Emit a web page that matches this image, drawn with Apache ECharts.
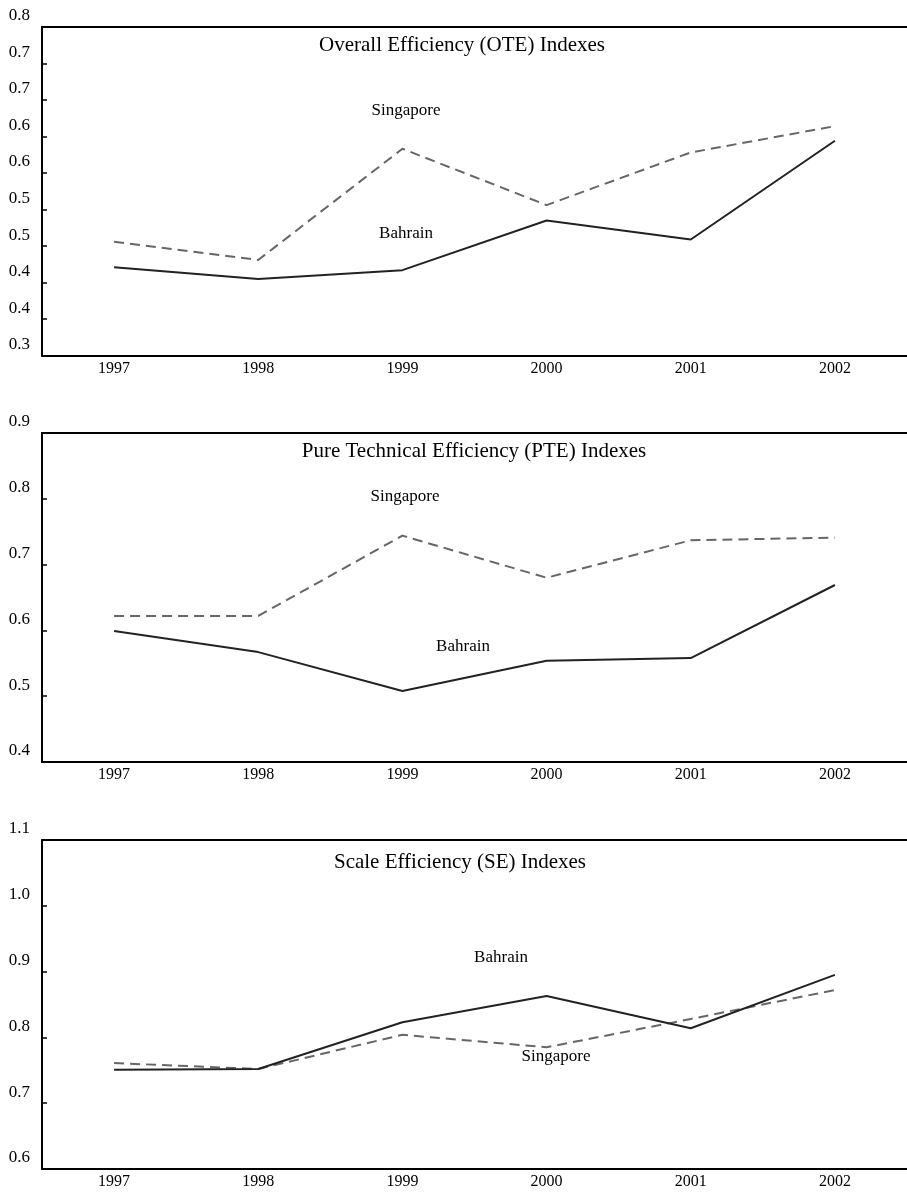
<!DOCTYPE html>
<html>
<head>
<meta charset="utf-8">
<script src="https://cdn.jsdelivr.net/npm/echarts@6/dist/echarts.min.js"></script>
<style>
html,body{margin:0;padding:0;background:#fff;}
#c{width:907px;height:1194px;}
</style>
</head>
<body>
<div id="c"></div>
<script>
const years = ['1997', '1998', '1999', '2000', '2001', '2002'];

const oteBahrain   = [0.471, 0.455, 0.467, 0.535, 0.509, 0.644];
const oteSingapore = [0.506, 0.481, 0.633, 0.556, 0.628, 0.664];

const pteBahrain   = [0.599, 0.567, 0.508, 0.554, 0.558, 0.669];
const pteSingapore = [0.622, 0.622, 0.744, 0.680, 0.737, 0.741];

const seBahrain    = [0.751, 0.752, 0.823, 0.863, 0.814, 0.895];
const seSingapore  = [0.761, 0.752, 0.804, 0.785, 0.828, 0.872];

const oteRange = { min: 0.35, max: 0.8, interval: 0.05 };
const pteRange = { min: 0.4, max: 0.9, interval: 0.1 };
const seRange  = { min: 0.6, max: 1.1, interval: 0.1 };

const titles = [
  'Overall Efficiency (OTE) Indexes',
  'Pure Technical Efficiency (PTE) Indexes',
  'Scale Efficiency (SE) Indexes'
];

const FONT = '"Liberation Serif", "Times New Roman", serif';
const panelTops = [26.7, 433, 840];
const panelH = 329;

const chart = echarts.init(document.getElementById('c'));

const grids = panelTops.map(t => ({ left: 42, top: t, width: 870, height: panelH }));

const xAxes = [];
const yAxes = [];
const ranges = [oteRange, pteRange, seRange];
const fmts = [
  v => (Math.floor(v * 10 + 1e-6) / 10).toFixed(1),
  v => v.toFixed(1),
  v => v.toFixed(1)
];
for (let i = 0; i < 3; i++) {
  xAxes.push({
    type: 'category', gridIndex: i, data: years, boundaryGap: true,
    axisLine: { lineStyle: { color: '#000', width: 2 } },
    axisTick: { inside: true, length: 5, lineStyle: { color: '#000', width: 1.5 } },
    axisLabel: { color: '#000', fontFamily: FONT, fontSize: 16, margin: 5 },
    splitLine: { show: false }
  });
  xAxes.push({
    type: 'category', gridIndex: i, data: years, position: 'top',
    axisLine: { lineStyle: { color: '#000', width: 2 } },
    axisTick: { show: false }, axisLabel: { show: false }, splitLine: { show: false }
  });
  yAxes.push({
    type: 'value', gridIndex: i,
    min: ranges[i].min, max: ranges[i].max, interval: ranges[i].interval,
    axisLine: { show: true, lineStyle: { color: '#000', width: 2 } },
    axisTick: { show: true, inside: true, length: 5, lineStyle: { color: '#000', width: 1.5 } },
    axisLabel: {
      color: '#000', fontFamily: FONT, fontSize: 17, margin: 12,
      verticalAlign: 'bottom', lineHeight: 22, formatter: fmts[i]
    },
    splitLine: { show: false }
  });
}

const solid = { color: '#222', width: 2, type: 'solid' };
const dashed = { color: '#666', width: 2, type: [10, 6] };

function line(name, data, idx, style) {
  return {
    name, type: 'line', data, xAxisIndex: idx * 2, yAxisIndex: idx,
    symbol: 'none', showSymbol: false, lineStyle: style,
    itemStyle: { color: style.color }, silent: true
  };
}

const series = [
  line('Singapore', oteSingapore, 0, dashed),
  line('Bahrain', oteBahrain, 0, solid),
  line('Singapore', pteSingapore, 1, dashed),
  line('Bahrain', pteBahrain, 1, solid),
  line('Singapore', seSingapore, 2, dashed),
  line('Bahrain', seBahrain, 2, solid)
];

function txt(text, x, y, size) {
  return {
    type: 'text', x, y, silent: true,
    style: { text, fill: '#000', font: size + 'px ' + FONT, textAlign: 'center', textVerticalAlign: 'middle' }
  };
}

const graphic = [
  txt(titles[0], 462, 45, 21),
  txt(titles[1], 474, 451, 21),
  txt(titles[2], 460, 862, 21),
  txt('Singapore', 406, 111, 17),
  txt('Bahrain', 406, 234, 17),
  txt('Singapore', 405, 497, 17),
  txt('Bahrain', 463, 647, 17),
  txt('Bahrain', 501, 958, 17),
  txt('Singapore', 556, 1057, 17)
];

chart.setOption({
  animation: false,
  backgroundColor: '#fff',
  grid: grids,
  xAxis: xAxes,
  yAxis: yAxes,
  series,
  graphic
});
</script>
</body>
</html>
